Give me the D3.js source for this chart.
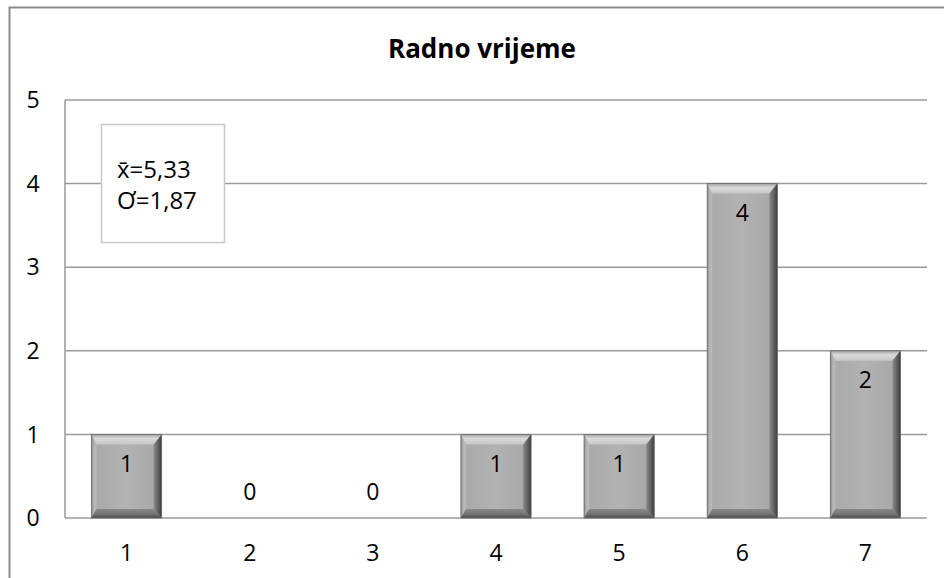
<!DOCTYPE html>
<html>
<head>
<meta charset="utf-8">
<script src="https://cdn.jsdelivr.net/npm/d3@7"></script>
<style>
  body { margin: 0; background: #fff; }
  svg text { font-family: "Open Sans", "Liberation Sans", sans-serif; fill: #000; }
</style>
</head>
<body>
<svg id="chart"></svg>
<script>
const TITLE = "Radno vrijeme";
const categories = ["1", "2", "3", "4", "5", "6", "7"];
const counts = [1, 0, 0, 1, 1, 4, 2];
const yTicks = [0, 1, 2, 3, 4, 5];
const statLines = ["x\u0304=5,33", "\u01A0=1,87"];

const W = 944, H = 578;
const margin = { left: 65, right: 17, top: 100, bottom: 60 };

var svg = d3.select("#chart")
    .attr("width", W)
    .attr("height", H);

// outer chart frame (cut off at right and bottom like the source)
svg.append("rect")
    .attr("x", 9.5).attr("y", 7.5)
    .attr("width", W + 20).attr("height", H + 20)
    .attr("fill", "#fff")
    .attr("stroke", "#8c8c8c")
    .attr("stroke-width", 2);

var x = d3.scaleBand()
    .domain(categories)
    .range([margin.left, W - margin.right])
    .paddingInner(0.43)
    .paddingOuter(0.215);

var y = d3.scaleLinear()
    .domain([0, 5])
    .range([H - margin.bottom, margin.top]);

/* gridlines */
svg.append("g")
    .selectAll("line")
    .data(yTicks)
    .enter().append("line")
    .attr("x1", margin.left)
    .attr("x2", W - margin.right)
    .attr("y1", d => y(d))
    .attr("y2", d => y(d))
    .attr("stroke", "#9a9a9a")
    .attr("stroke-width", 1.5);

// left edge of plot area
svg.append("line")
    .attr("x1", margin.left).attr("x2", margin.left)
    .attr("y1", y(5)).attr("y2", y(0))
    .attr("stroke", "#9a9a9a")
    .attr("stroke-width", 1.5);

/* y tick labels */
svg.append("g")
    .selectAll("text")
    .data(yTicks)
    .enter().append("text")
    .attr("x", 33)
    .attr("y", d => y(d))
    .attr("dy", "0.36em")
    .attr("text-anchor", "middle")
    .attr("font-size", 23)
    .text(d => d);

/* x tick labels */
svg.append("g")
    .selectAll("text")
    .data(categories)
    .enter().append("text")
    .attr("x", d => x(d) + x.bandwidth() / 2)
    .attr("y", 553)
    .attr("dy", "0.36em")
    .attr("text-anchor", "middle")
    .attr("font-size", 23)
    .text(d => d);

/* gradients for the bevelled bars */
var defs = svg.append("defs");
function grad(id, x2, y2, stops) {
    var g = defs.append("linearGradient").attr("id", id)
        .attr("x1", 0).attr("y1", 0).attr("x2", x2).attr("y2", y2);
    stops.forEach(s => g.append("stop").attr("offset", s[0]).attr("stop-color", s[1]));
}
grad("face", 1, 0, [[0, "#a9a9a9"], [0.5, "#b2b2b2"], [1, "#a6a6a6"]]);
grad("bevTop", 0, 1, [[0, "#a0a0a0"], [0.4, "#dadada"], [1, "#c6c6c6"]]);
grad("bevLeft", 1, 0, [[0, "#8e8e8e"], [0.5, "#b4b4b4"], [1, "#bcbcbc"]]);
grad("bevRight", 1, 0, [[0, "#8a8a8a"], [0.6, "#5e5e5e"], [1, "#3c3c3c"]]);
grad("bevBottom", 0, 1, [[0, "#8a8a8a"], [0.6, "#707070"], [1, "#4a4a4a"]]);

var data = categories.map((c, i) => ({ cat: c, value: counts[i] }));
var bt = 10, bb = 9, bl = 5, br = 8;

var bars = svg.append("g")
    .selectAll("g.bar")
    .data(data.filter(d => d.value > 0))
    .enter().append("g")
    .attr("class", "bar");

bars.each(function (d) {
    var g = d3.select(this);
    var x0 = x(d.cat), x1 = x0 + x.bandwidth();
    var y0 = y(d.value), y1 = y(0);
    g.append("rect")
        .attr("x", x0).attr("y", y0)
        .attr("width", x1 - x0).attr("height", y1 - y0)
        .attr("fill", "url(#face)");
    var pts = {
        top: [[x0, y0], [x1, y0], [x1 - br, y0 + bt], [x0 + bl, y0 + bt]],
        left: [[x0, y0], [x0 + bl, y0 + bt], [x0 + bl, y1 - bb], [x0, y1]],
        right: [[x1, y0], [x1, y1], [x1 - br, y1 - bb], [x1 - br, y0 + bt]],
        bottom: [[x0, y1], [x0 + bl, y1 - bb], [x1 - br, y1 - bb], [x1, y1]]
    };
    g.append("polygon").attr("points", pts.top.join(" ")).attr("fill", "url(#bevTop)");
    g.append("polygon").attr("points", pts.left.join(" ")).attr("fill", "url(#bevLeft)");
    g.append("polygon").attr("points", pts.right.join(" ")).attr("fill", "url(#bevRight)");
    g.append("polygon").attr("points", pts.bottom.join(" ")).attr("fill", "url(#bevBottom)");
    g.append("rect")
        .attr("x", x0).attr("y", y0)
        .attr("width", x1 - x0).attr("height", y1 - y0)
        .attr("fill", "none")
        .attr("stroke", "#6a6a6a")
        .attr("stroke-width", 0.8);
});

/* value labels */
svg.append("g")
    .selectAll("text")
    .data(data)
    .enter().append("text")
    .attr("x", d => x(d.cat) + x.bandwidth() / 2)
    .attr("y", d => d.value > 0 ? y(d.value) + 29 : y(0) - 26)
    .attr("dy", "0.36em")
    .attr("text-anchor", "middle")
    .attr("font-size", 23)
    .text(d => d.value);

/* title */
svg.append("text")
    .attr("x", 482)
    .attr("y", 58)
    .attr("text-anchor", "middle")
    .attr("font-size", 26)
    .attr("font-weight", "bold")
    .text(TITLE);

/* stats box */
var box = svg.append("g");
box.append("rect")
    .attr("x", 101.5).attr("y", 124.5)
    .attr("width", 123).attr("height", 118)
    .attr("fill", "#fff")
    .attr("stroke", "#c8c8c8")
    .attr("stroke-width", 1.5);
box.selectAll("text")
    .data(statLines)
    .enter().append("text")
    .attr("x", 117)
    .attr("y", (d, i) => 178 + i * 31)
    .attr("font-size", 24)
    .text(d => d);
</script>
</body>
</html>
